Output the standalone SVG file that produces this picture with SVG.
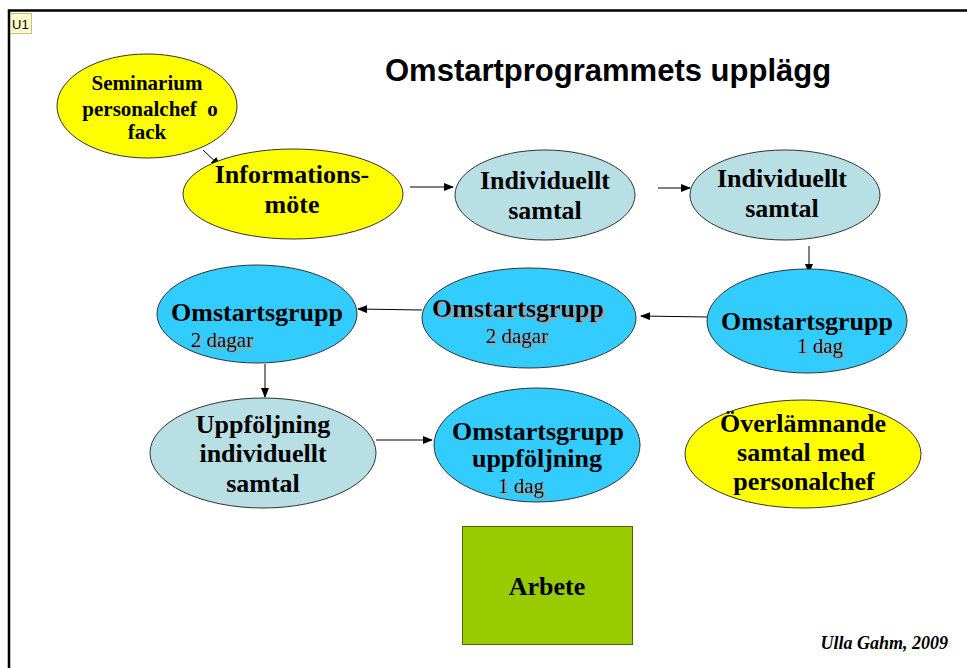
<svg xmlns="http://www.w3.org/2000/svg" width="967" height="668" viewBox="0 0 967 668">
<style>
.yel{fill:#FFFF00;stroke:#333;stroke-width:1}
.lb{fill:#B8DFE3;stroke:#333;stroke-width:1}
.bb{fill:#33CCFF;stroke:#333;stroke-width:1}
.t{font-family:"Liberation Serif","Times New Roman",serif;font-weight:bold;font-size:26px;text-anchor:middle;fill:#000}
.s{font-family:"Liberation Serif","Times New Roman",serif;font-size:21px;text-anchor:middle;fill:#000}
.sh{filter:url(#shadow)}
.c{stroke:#000;stroke-width:1;fill:none;marker-end:url(#ah)}
</style>
<defs>
<marker id="ah" markerWidth="10" markerHeight="8" refX="9" refY="4" orient="auto" markerUnits="userSpaceOnUse">
<path d="M0,0 L10,4 L0,8 Z" fill="#000"/>
</marker>
<filter id="shadow" x="-10%" y="-30%" width="120%" height="160%">
<feOffset in="SourceAlpha" dx="2" dy="2" result="o"/>
<feFlood flood-color="#A0A0A0"/>
<feComposite in2="o" operator="in" result="s"/>
<feMerge><feMergeNode in="s"/><feMergeNode in="SourceGraphic"/></feMerge>
</filter>
</defs>
<rect width="967" height="668" fill="#fff"/>
<path d="M9,668 V10.5 H967" fill="none" stroke="#000" stroke-width="2.5"/>
<g id="comment">
<rect x="10.5" y="13.5" width="21" height="20" fill="#FFFFCC" stroke="#C8C080"/>
<text x="12" y="29" font-family="'Liberation Sans',Arial,sans-serif" font-size="13" fill="#000">U1</text>
</g>
<text x="385" y="81" font-family="'Liberation Sans',Arial,sans-serif" font-weight="bold" font-size="31" fill="#000">Omstartprogrammets upplägg</text>
<g id="connectors">
<line class="c" x1="203" y1="150" x2="220" y2="166"/>
<line class="c" x1="410" y1="187" x2="453" y2="187"/>
<line class="c" x1="658" y1="188" x2="690" y2="188"/>
<line class="c" x1="809" y1="246" x2="809" y2="273"/>
<line class="c" x1="707" y1="317" x2="641" y2="316"/>
<line class="c" x1="422" y1="310" x2="358" y2="309"/>
<line class="c" x1="265" y1="364" x2="265" y2="397"/>
<line class="c" x1="376" y1="440" x2="432" y2="440"/>
</g>
<g id="seminarium">
<ellipse class="yel" cx="147" cy="106" rx="90" ry="52"/>
<text class="t" style="font-size:21px" x="147" y="90">Seminarium</text>
<text class="t" style="font-size:21px;white-space:pre" x="150" y="116" xml:space="preserve">personalchef  o</text>
<text class="t" style="font-size:21px" x="147" y="139">fack</text>
</g>
<g id="informationsmote">
<ellipse class="yel" cx="293" cy="194" rx="110" ry="45"/>
<text class="t" x="292" y="183">Informations-</text>
<text class="t" x="292" y="213">möte</text>
</g>
<g id="individuellt1">
<ellipse class="lb" cx="545" cy="195" rx="90" ry="45"/>
<text class="t" x="545" y="189">Individuellt</text>
<text class="t" x="545" y="219">samtal</text>
</g>
<g id="individuellt2">
<ellipse class="lb" cx="785" cy="195" rx="95" ry="45"/>
<text class="t" x="782" y="187">Individuellt</text>
<text class="t" x="782" y="217">samtal</text>
</g>
<g id="omstart1dag">
<ellipse class="bb" cx="807" cy="321" rx="100" ry="52"/>
<text class="t" x="807" y="330">Omstartsgrupp</text>
<text class="s sh" x="820" y="353">1 dag</text>
</g>
<g id="omstart2dagar-mid">
<ellipse class="bb" cx="529" cy="318" rx="107" ry="50"/>
<text class="t sh" x="518" y="317">Omstartsgrupp</text>
<text class="s sh" x="517" y="343">2 dagar</text>
</g>
<g id="omstart2dagar-left">
<ellipse class="bb" cx="257" cy="314" rx="100" ry="49"/>
<text class="t" x="257" y="321">Omstartsgrupp</text>
<text class="s sh" x="222" y="347">2 dagar</text>
</g>
<g id="uppfoljning">
<ellipse class="lb" cx="263" cy="453" rx="113" ry="55"/>
<text class="t" x="263" y="433">Uppföljning</text>
<text class="t" x="263" y="462">individuellt</text>
<text class="t" x="263" y="492">samtal</text>
</g>
<g id="omstart-uppfoljning">
<ellipse class="bb" cx="537" cy="445" rx="103" ry="57"/>
<text class="t" x="538" y="440">Omstartsgrupp</text>
<text class="t" x="537" y="467">uppföljning</text>
<text class="s sh" x="521" y="493">1 dag</text>
</g>
<g id="overlamnande">
<ellipse class="yel" cx="803" cy="454" rx="118" ry="54"/>
<text class="t" x="803" y="432">Överlämnande</text>
<text class="t" x="801" y="461">samtal med</text>
<text class="t" x="804" y="490">personalchef</text>
</g>
<g id="arbete">
<rect x="462.5" y="526.5" width="170" height="118" fill="#99CC00" stroke="#4D6600"/>
<text class="t" x="547" y="595">Arbete</text>
</g>
<text x="948" y="649" text-anchor="end" font-family="'Liberation Serif','Times New Roman',serif" font-weight="bold" font-style="italic" font-size="18" fill="#000">Ulla Gahm, 2009</text>
</svg>
